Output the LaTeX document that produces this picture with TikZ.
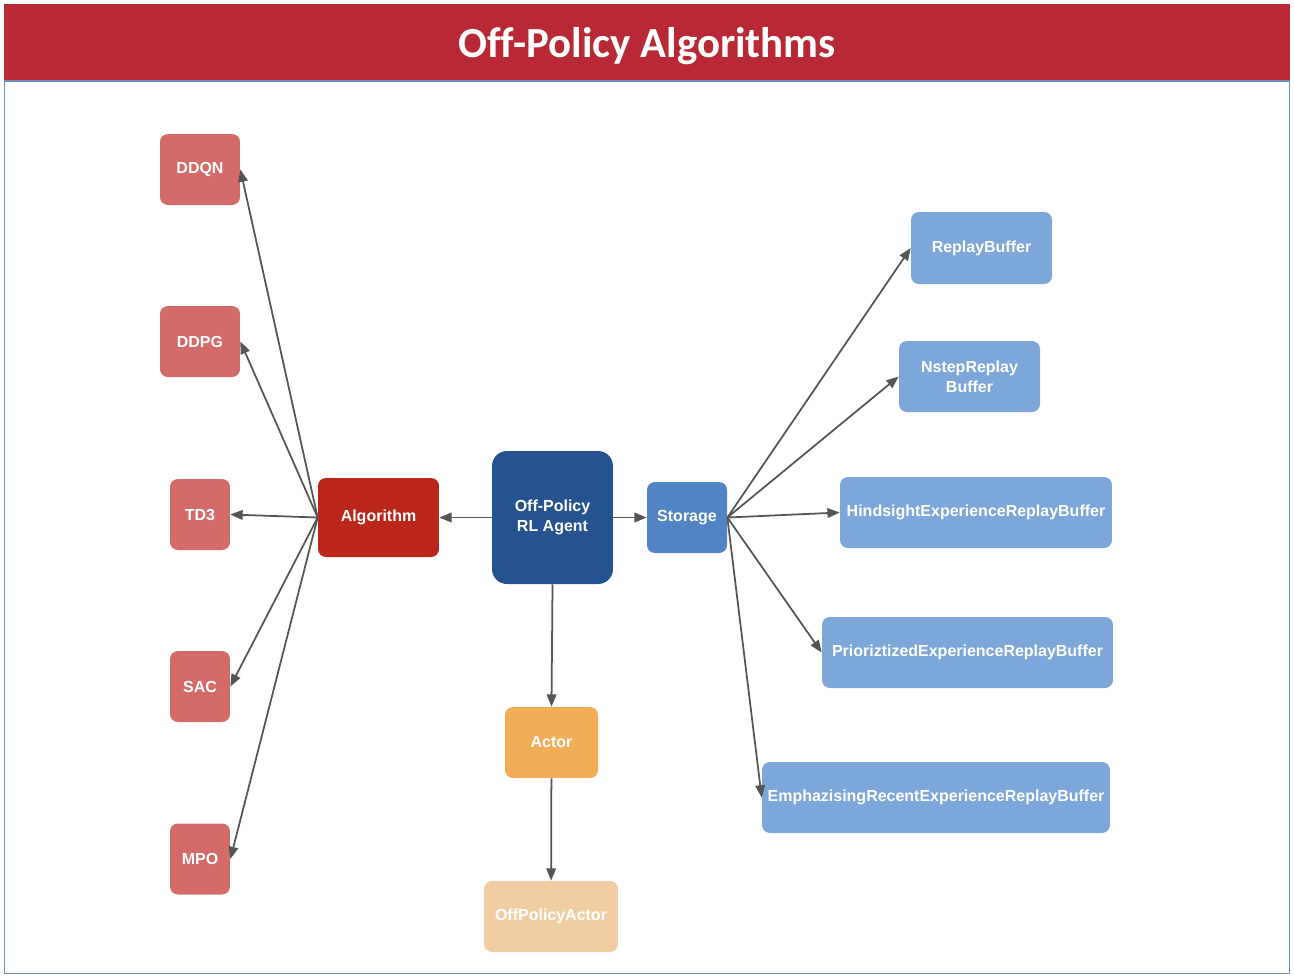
\documentclass[tikz,border=0pt]{standalone}
\usepackage{fontspec}
\newfontfamily\nodefont{Liberation Sans}
\newfontfamily\titlefont[Ligatures=NoCommon]{Carlito}
\usetikzlibrary{positioning,arrows.meta}
\definecolor{titlered}{HTML}{B82935}
\definecolor{framecol}{HTML}{6C8EBF}
\definecolor{algred}{HTML}{BA261B}
\definecolor{lightred}{HTML}{D46B68}
\definecolor{agentblue}{HTML}{245390}
\definecolor{storeblue}{HTML}{5084C4}
\definecolor{lightblue}{HTML}{7CA7D8}
\definecolor{actororange}{HTML}{F2AE56}
\definecolor{lightorange}{HTML}{F1CEA2}
\definecolor{arrowgray}{HTML}{555555}
\tikzset{box/.style={rectangle, rounded corners=4.5pt, inner sep=0pt,
    text=white, align=center, font=\nodefont\bfseries\fontsize{9.1}{11.3}\selectfont,
    minimum height=1.42cm},
  algobox/.style={box, fill=lightred, minimum width=1.6cm},
  smallalgo/.style={box, fill=lightred, minimum width=1.2cm},
  bufferbox/.style={box, fill=lightblue},
  myarrow/.style={-{Triangle[length=7pt,width=5.5pt]}, draw=arrowgray, line width=1pt}
}
\begin{document}
\begin{tikzpicture}[x=0.02cm, y=-0.02cm]
   \useasboundingbox (0,0) rectangle (1294,978);

   %Title
   \fill[titlered] (4,4) rectangle (1290,80);
   \node (title) at (647,46) [text=white, font=\titlefont\bfseries\fontsize{24.4}{28}\selectfont] {Off-Policy Algorithms};
   \draw[framecol, line width=0.6pt] (4.5,81) rectangle (1289.5,973.5);

   %Agent node
   \node (agent) at (552.5,517.5) [box, fill=agentblue, rounded corners=8.5pt,
      minimum width=2.42cm, minimum height=2.66cm] {Off-Policy\\RL Agent};
   %Algorithm node
   \node (alg) at (378.5,517.5) [box, fill=algred, minimum width=2.42cm, minimum height=1.58cm] {Algorithm};
   %Storage node
   \node (storage) at (687,517.5) [box, fill=storeblue, minimum width=1.6cm] {Storage};
   %Actor nodes
   \node (actor) at (551.5,742.5) [box, fill=actororange, minimum width=1.86cm] {Actor};
   \node (offactor) at (551,916.5) [box, fill=lightorange, minimum width=2.68cm] {OffPolicyActor};

   %Algorithms
   \node (ddqn) at (200,169.5) [algobox] {DDQN};
   \node (ddpg) at (200,341.5) [algobox] {DDPG};
   \node (td3) at (200,514.5) [smallalgo] {TD3};
   \node (sac) at (200,686.5) [smallalgo] {SAC};
   \node (mpo) at (200,859) [smallalgo] {MPO};

   %Buffers
   \node (replay) at (981.5,248) [bufferbox, minimum width=2.82cm, minimum height=1.44cm] {ReplayBuffer};
   \node (nstep) at (969.5,376.5) [bufferbox, minimum width=2.82cm] {NstepReplay\\Buffer};
   \node (hindsight) at (976,512.5) [bufferbox, minimum width=5.44cm] {HindsightExperienceReplayBuffer};
   \node (prio) at (967.5,652.5) [bufferbox, minimum width=5.82cm] {PrioriztizedExperienceReplayBuffer};
   \node (emph) at (936,797.5) [bufferbox, minimum width=6.96cm] {EmphazisingRecentExperienceReplayBuffer};

   \draw [myarrow] (agent) -- (alg);
   \draw [myarrow] (agent) -- (storage);
   \draw [myarrow] (agent.south) -- (actor.north);
   \draw [myarrow] (actor) -- (offactor);

   \foreach \target in {ddqn,ddpg,td3,sac,mpo}
      \draw [myarrow] (alg.west) -- (\target.east);
   \foreach \target in {replay,nstep,hindsight,prio,emph}
      \draw [myarrow] (storage.east) -- (\target.west);

\end{tikzpicture}
\end{document}
